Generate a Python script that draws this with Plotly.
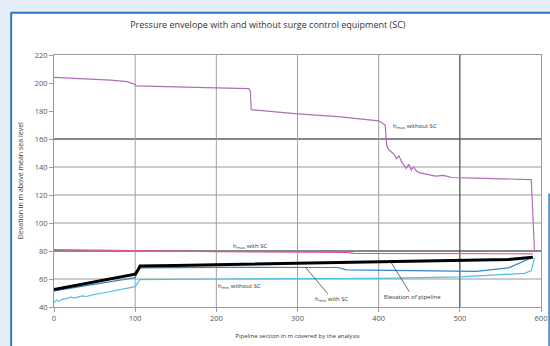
import plotly.graph_objects as go

# ---------------- data ----------------
x_hmax_nosc = [0, 20, 45, 70, 90, 100, 101, 150, 200, 240, 242, 243, 260, 300, 350, 400, 405, 408,
               410, 413, 416, 419, 422, 425, 428, 431, 434, 437, 440, 443, 446, 450, 460, 470, 480,
               490, 520, 560, 588, 592]
y_hmax_nosc = [204, 203.5, 203, 202, 201, 199, 198, 197, 196.5, 196, 194, 181, 180, 178, 176, 173, 171, 170,
               155, 152, 150.5, 149, 146, 148, 144, 141, 139, 142, 138, 140, 137.5, 136, 135, 133.5, 134,
               132.5, 132, 131.5, 131, 80]

x_hmax_sc = [0, 50, 100, 200, 300, 360, 370, 450, 550, 590]
y_hmax_sc = [81, 80.5, 80, 79.5, 79.2, 79, 78.3, 78, 78, 78]

x_elev = [0, 100, 103, 106, 150, 200, 300, 400, 500, 560, 590]
y_elev = [52.5, 63.5, 66, 69.3, 69.7, 70.2, 71, 72.2, 73.2, 74, 75.5]

x_hmin_sc = [0, 100, 103, 106, 200, 300, 350, 360, 450, 500, 520, 560, 590]
y_hmin_sc = [51.5, 61, 65, 68, 68.3, 68.5, 68.2, 66.5, 66, 65.5, 65.5, 68, 75.5]

x_hmin_nosc = [0, 3, 6, 10, 15, 20, 25, 30, 35, 40, 45, 50, 60, 70, 80, 90, 100, 103, 106,
               200, 300, 400, 500, 540, 580, 588, 592]
y_hmin_nosc = [43, 45, 44, 45.5, 46, 47, 46.5, 47.5, 48, 47.5, 48.5, 49, 50, 51, 52, 53, 54.5, 57, 59.5,
               60, 60, 60.5, 61.5, 62.5, 64, 66, 75]

x_ticks = [0, 100, 200, 300, 400, 500, 600]
y_ticks = [40, 60, 80, 100, 120, 140, 160, 180, 200, 220]

# ---------------- figure ----------------
fig = go.Figure()

fig.add_trace(go.Scatter(x=x_hmax_nosc, y=y_hmax_nosc, mode="lines",
                         line=dict(color="#b36cbc", width=1.2), name="hmax without SC"))
fig.add_trace(go.Scatter(x=x_hmax_sc, y=y_hmax_sc, mode="lines",
                         line=dict(color="#e0559c", width=1.2), name="hmax with SC"))
fig.add_trace(go.Scatter(x=x_hmin_nosc, y=y_hmin_nosc, mode="lines",
                         line=dict(color="#4fbfe9", width=1.2), name="hmin without SC"))
fig.add_trace(go.Scatter(x=x_hmin_sc, y=y_hmin_sc, mode="lines",
                         line=dict(color="#3585c6", width=1.2), name="hmin with SC"))
fig.add_trace(go.Scatter(x=x_elev, y=y_elev, mode="lines",
                         line=dict(color="#000000", width=3), name="Elevation of pipeline"))

shapes = []
# background white box and blue frame (paper coords relative to plot area)
shapes.append(dict(type="rect", xref="paper", yref="paper", x0=-0.09, x1=1.05, y0=-0.2, y1=1.17,
                   fillcolor="white", line=dict(width=0), layer="below"))
shapes.append(dict(type="line", xref="paper", yref="paper", x0=-0.088, x1=1.05, y0=1.168, y1=1.168,
                   line=dict(color="#2a78bd", width=2)))
shapes.append(dict(type="line", xref="paper", yref="paper", x0=-0.088, x1=-0.088, y0=-0.2, y1=1.17,
                   line=dict(color="#2a78bd", width=2)))
shapes.append(dict(type="line", xref="paper", yref="paper", x0=1.0175, x1=1.0175, y0=-0.2, y1=0.45,
                   line=dict(color="#4a90cc", width=2.5)))
# gridlines
for gy in [60, 100, 120, 140]:
    shapes.append(dict(type="line", xref="x", yref="y", x0=0, x1=600, y0=gy, y1=gy,
                       line=dict(color="#9a9a9a", width=1), layer="below"))
for gy in [80, 160]:
    shapes.append(dict(type="line", xref="x", yref="y", x0=0, x1=600, y0=gy, y1=gy,
                       line=dict(color="#111111", width=1), layer="below"))
for gx in [100, 200, 300, 400]:
    shapes.append(dict(type="line", xref="x", yref="y", x0=gx, x1=gx, y0=38, y1=220,
                       line=dict(color="#a0a0a0", width=1), layer="below"))
shapes.append(dict(type="line", xref="x", yref="y", x0=500, x1=500, y0=38, y1=220,
                   line=dict(color="#555555", width=1.3), layer="below"))

lab_font = dict(family="Open Sans, Noto Sans, sans-serif", size=6, color="#333333")
annotations = [
    dict(x=445, y=169, text="h<sub>max</sub> without SC", showarrow=False, font=lab_font),
    dict(x=242, y=83.5, text="h<sub>max</sub> with SC", showarrow=False, font=lab_font),
    dict(x=229, y=55, text="h<sub>min</sub> without SC", showarrow=False, font=lab_font),
    dict(x=310, y=68.3, ax=343, ay=45.5, axref="x", ayref="y", text="h<sub>min</sub> with SC",
         showarrow=True, arrowhead=0, arrowwidth=0.8, arrowcolor="#444444", font=lab_font),
    dict(x=415, y=72.1, ax=442, ay=47, axref="x", ayref="y", text="Elevation of pipeline",
         showarrow=True, arrowhead=0, arrowwidth=0.8, arrowcolor="#444444", font=lab_font),
]

fig.update_layout(
    width=550, height=346, autosize=False,
    margin=dict(l=54, r=9, t=55, b=39),
    paper_bgcolor="#e4eef8", plot_bgcolor="white",
    showlegend=False,
    title=dict(text="Pressure envelope with and without surge control equipment (SC)",
               x=0.487, xanchor="center", y=0.928, yanchor="middle",
               font=dict(family="Open Sans, Noto Sans, sans-serif", size=9, color="#333333")),
    shapes=shapes,
    annotations=annotations,
    font=dict(family="Open Sans, Noto Sans, sans-serif"),
)
fig.update_xaxes(range=[0, 600], tickvals=x_ticks, ticktext=[str(v) for v in x_ticks],
                 showgrid=False, zeroline=False, showline=True, linecolor="#9a9a9a", mirror=True,
                 ticks="outside", ticklen=4, tickcolor="#9a9a9a",
                 tickfont=dict(size=7.5, color="#555555"), automargin=False,
                 title=dict(text="Pipeline section in m covered by the analysis",
                            font=dict(size=6, color="#333333"), standoff=11))
fig.update_yaxes(range=[40, 220], tickvals=y_ticks, ticktext=[str(v) for v in y_ticks],
                 showgrid=False, zeroline=False, showline=True, linecolor="#9a9a9a", mirror=True,
                 ticks="outside", ticklen=4, tickcolor="#9a9a9a",
                 tickfont=dict(size=7.5, color="#555555"), automargin=False,
                 title=dict(text="Elevation in m above mean sea level",
                            font=dict(size=7, color="#333333"), standoff=10))

fig.write_html("out.html", config={"displayModeBar": False},
               post_script="document.body.style.margin='0px';")
